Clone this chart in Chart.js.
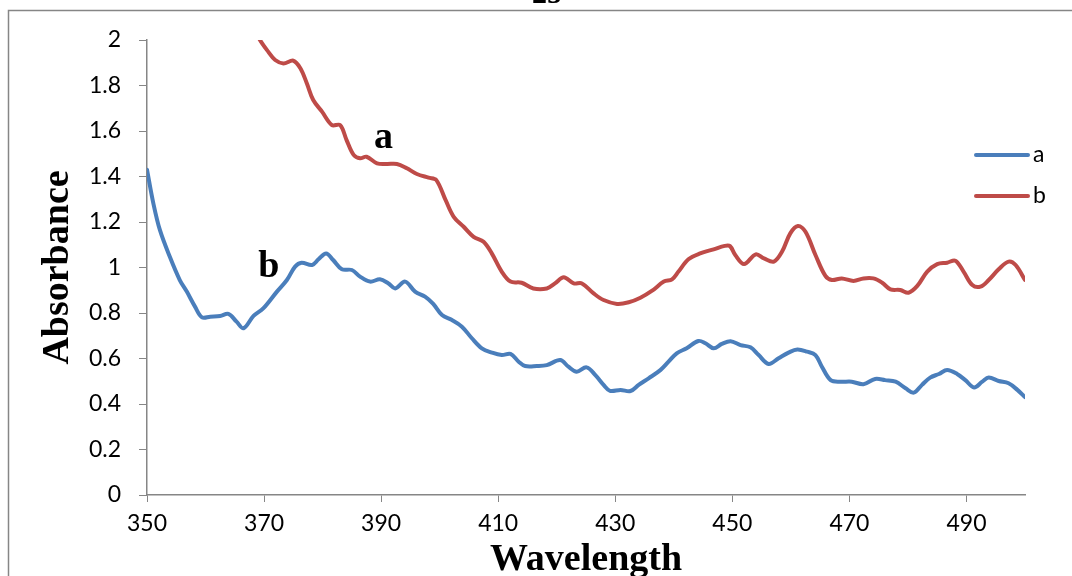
<!DOCTYPE html>
<html>
<head>
<meta charset="utf-8">
<script src="https://cdn.jsdelivr.net/npm/chart.js@4.4.1/dist/chart.umd.min.js"></script>
<style>
  html, body { margin: 0; padding: 0; background: #ffffff; }
  #wrap { width: 1072px; height: 576px; position: relative; }
</style>
</head>
<body>
<div id="wrap"><canvas id="spectrum" width="1072" height="576"></canvas></div>
<script>
// Absorbance spectra, wavelength in nm
const wavelengthA = [350.0, 351.1, 352.2, 353.9, 355.6, 356.8, 358.2, 359.4, 360.8, 362.5, 363.9, 365.3, 366.5, 368.2, 369.9, 372.2, 373.9, 375.3, 376.4, 378.2, 379.3, 380.6, 381.8, 383.3, 385.0, 386.4, 388.1, 389.8, 391.2, 392.4, 394.1, 395.8, 397.5, 398.9, 400.4, 402.1, 403.8, 405.5, 407.2, 408.9, 410.6, 412.1, 413.5, 414.6, 416.6, 418.3, 420.6, 422.0, 423.4, 425.1, 426.6, 428.0, 429.1, 430.9, 432.6, 434.0, 435.7, 437.7, 439.1, 440.5, 442.2, 444.2, 445.4, 446.8, 448.2, 449.7, 451.4, 453.1, 454.5, 456.2, 457.9, 459.6, 461.1, 462.8, 464.2, 465.3, 466.8, 468.5, 470.4, 472.4, 474.4, 476.1, 477.9, 479.6, 481.0, 482.4, 483.8, 485.3, 486.7, 488.4, 489.8, 491.3, 492.7, 493.8, 495.5, 497.2, 498.7, 500.0];
const absorbanceA = [1.43, 1.28, 1.165, 1.047, 0.945, 0.894, 0.828, 0.781, 0.784, 0.787, 0.796, 0.762, 0.733, 0.787, 0.821, 0.894, 0.945, 1.004, 1.021, 1.011, 1.036, 1.062, 1.033, 0.992, 0.989, 0.96, 0.938, 0.948, 0.931, 0.908, 0.938, 0.894, 0.872, 0.84, 0.791, 0.769, 0.74, 0.689, 0.645, 0.626, 0.615, 0.62, 0.586, 0.567, 0.567, 0.571, 0.593, 0.564, 0.542, 0.561, 0.527, 0.484, 0.458, 0.462, 0.457, 0.484, 0.513, 0.549, 0.586, 0.623, 0.645, 0.677, 0.667, 0.645, 0.664, 0.676, 0.659, 0.649, 0.615, 0.576, 0.601, 0.626, 0.64, 0.63, 0.615, 0.564, 0.505, 0.498, 0.498, 0.487, 0.51, 0.505, 0.498, 0.469, 0.45, 0.484, 0.516, 0.532, 0.549, 0.532, 0.505, 0.473, 0.498, 0.516, 0.501, 0.491, 0.462, 0.43];

const wavelengthB = [367.5, 369.3, 370.7, 371.9, 373.3, 375.0, 376.2, 377.3, 378.4, 379.9, 381.6, 383.0, 384.1, 385.3, 386.4, 387.5, 389.3, 391.0, 392.7, 394.4, 396.1, 398.1, 399.4, 401.0, 402.4, 404.1, 405.8, 407.5, 408.9, 410.6, 412.1, 414.0, 416.0, 418.3, 419.7, 421.2, 422.9, 424.3, 426.3, 428.0, 430.3, 432.3, 434.3, 436.3, 438.3, 439.7, 440.8, 442.5, 444.5, 446.8, 448.7, 449.6, 450.5, 452.0, 454.0, 455.4, 457.1, 458.5, 459.9, 461.2, 462.5, 464.2, 465.9, 467.0, 468.7, 470.7, 472.4, 474.1, 475.6, 477.0, 478.7, 480.1, 481.6, 483.3, 485.0, 486.7, 488.1, 489.5, 491.0, 492.4, 493.8, 495.5, 497.2, 498.4, 500.0];
const absorbanceB = [2.09, 2.0, 1.949, 1.912, 1.897, 1.909, 1.876, 1.81, 1.736, 1.685, 1.626, 1.626, 1.56, 1.495, 1.48, 1.487, 1.458, 1.455, 1.455, 1.436, 1.411, 1.395, 1.385, 1.297, 1.223, 1.179, 1.135, 1.113, 1.062, 0.982, 0.938, 0.933, 0.908, 0.908, 0.93, 0.957, 0.93, 0.93, 0.886, 0.857, 0.84, 0.847, 0.867, 0.898, 0.938, 0.948, 0.982, 1.036, 1.062, 1.08, 1.095, 1.094, 1.055, 1.015, 1.058, 1.04, 1.026, 1.07, 1.15, 1.182, 1.157, 1.055, 0.963, 0.945, 0.952, 0.941, 0.952, 0.952, 0.933, 0.904, 0.901, 0.889, 0.919, 0.982, 1.015, 1.021, 1.03, 0.982, 0.923, 0.916, 0.945, 0.992, 1.026, 1.011, 0.945];

const xTicks = [350, 370, 390, 410, 430, 450, 470, 490];
const yTicks = [0, 0.2, 0.4, 0.6, 0.8, 1, 1.2, 1.4, 1.6, 1.8, 2];

const seriesNames = ['a', 'b'];
const seriesColors = ['#4A7EBB', '#BE4B48'];

// In-plot curve labels: [text, wavelength, absorbance at baseline]
const curveLabels = [['a', 390.4, 1.525], ['b', 370.8, 0.958]];

const axisGray = '#868686';
const tickFont = { family: 'Lato', size: 23 };
const titleFont = { family: 'Liberation Serif', size: 38, weight: 'bold' };

function pairs(xs, ys) {
  return xs.map((x, i) => ({ x: x, y: ys[i] }));
}

// Outer frame, page number and curve labels
const decorations = {
  id: 'decorations',
  beforeDraw(chart) {
    const ctx = chart.ctx;
    ctx.save();
    ctx.fillStyle = '#ffffff';
    ctx.fillRect(0, 0, chart.width, chart.height);
    ctx.strokeStyle = axisGray;
    ctx.lineWidth = 1.5;
    ctx.beginPath();
    ctx.moveTo(8.5, chart.height);
    ctx.lineTo(8.5, 10.5);
    ctx.lineTo(chart.width, 10.5);
    ctx.stroke();
    ctx.fillStyle = '#000000';
    ctx.font = 'bold 30px "Liberation Serif"';
    ctx.textAlign = 'center';
    ctx.textBaseline = 'alphabetic';
    ctx.fillText('25', 547, 3);
    ctx.restore();
  },
  afterDraw(chart) {
    const ctx = chart.ctx;
    const xs = chart.scales.x, ys = chart.scales.y;
    ctx.save();
    ctx.fillStyle = '#000000';
    ctx.font = 'bold 38px "Liberation Serif"';
    ctx.textAlign = 'center';
    ctx.textBaseline = 'alphabetic';
    curveLabels.forEach(([t, wl, ab]) => {
      ctx.fillText(t, xs.getPixelForValue(wl), ys.getPixelForValue(ab));
    });
    // legend
    chart.data.datasets.forEach((ds, i) => {
      const y = 155 + i * 41;
      ctx.strokeStyle = ds.borderColor;
      ctx.lineWidth = 4;
      ctx.lineCap = 'round';
      ctx.beginPath();
      ctx.moveTo(976, y);
      ctx.lineTo(1028, y);
      ctx.stroke();
      ctx.fillStyle = '#000000';
      ctx.font = '23px Lato';
      ctx.textAlign = 'left';
      ctx.textBaseline = 'middle';
      ctx.fillText(ds.label, 1033, y);
    });
    ctx.restore();
  }
};

new Chart(document.getElementById('spectrum'), {
  type: 'line',
  data: {
    datasets: [
      { label: seriesNames[0], data: pairs(wavelengthA, absorbanceA), borderColor: seriesColors[0], backgroundColor: seriesColors[0], borderWidth: 4, pointRadius: 0, tension: 0.35, borderCapStyle: 'round', borderJoinStyle: 'round' },
      { label: seriesNames[1], data: pairs(wavelengthB, absorbanceB), borderColor: seriesColors[1], backgroundColor: seriesColors[1], borderWidth: 4, pointRadius: 0, tension: 0.35, borderCapStyle: 'round', borderJoinStyle: 'round' }
    ]
  },
  options: {
    responsive: false,
    animation: false,
    layout: { padding: { top: 40, right: 47, left: 0, bottom: 0 } },
    plugins: { legend: { display: false }, tooltip: { enabled: false } },
    scales: {
      x: {
        type: 'linear',
        min: 350,
        max: 500,
        afterBuildTicks(s) { s.ticks = xTicks.map(v => ({ value: v })); },
        afterFit(s) { s.height = 81; },
        grid: { drawOnChartArea: false, color: axisGray, tickLength: 7, tickColor: axisGray },
        border: { color: axisGray, width: 1.5 },
        ticks: { font: tickFont, color: '#000000', padding: 8, maxRotation: 0, autoSkip: false, callback: v => String(v) },
        title: { display: true, text: 'Wavelength', font: titleFont, color: '#000000', padding: { top: 0, bottom: -7 } }
      },
      y: {
        type: 'linear',
        min: 0,
        max: 2,
        afterBuildTicks(s) { s.ticks = yTicks.map(v => ({ value: v })); },
        afterFit(s) { s.width = 147; },
        grid: { drawOnChartArea: false, color: axisGray, tickLength: 8, tickColor: axisGray },
        border: { color: axisGray, width: 1.5 },
        ticks: { font: tickFont, color: '#000000', padding: 18, autoSkip: false, callback: v => String(Math.round(v * 10) / 10) },
        title: { display: true, text: 'Absorbance', font: titleFont, color: '#000000', padding: { top: 35, bottom: 0 } }
      }
    }
  },
  plugins: [decorations]
});
</script>
</body>
</html>
